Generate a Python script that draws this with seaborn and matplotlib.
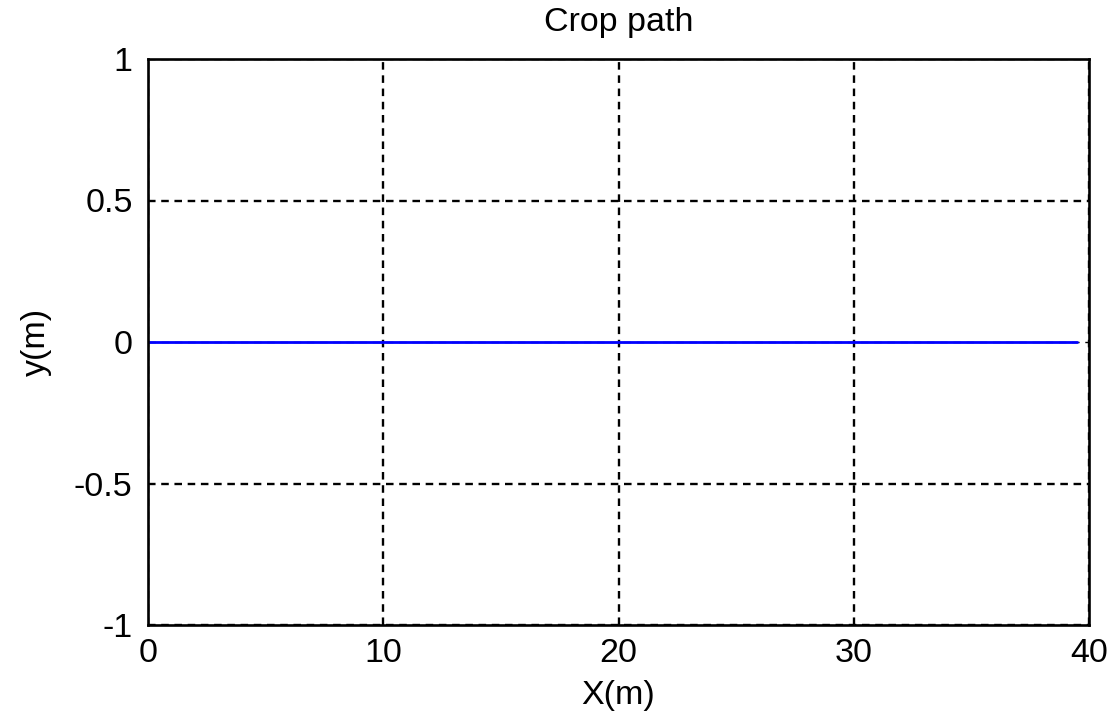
import matplotlib
matplotlib.use("Agg")
import matplotlib.pyplot as plt
import seaborn as sns
import pandas as pd

# Data
path_x = [0, 39.5]
path_y = [0, 0]
x_ticks = [0, 10, 20, 30, 40]
y_ticks = [-1, -0.5, 0, 0.5, 1]
y_tick_labels = ["-1", "-0.5", "0", "0.5", "1"]
x_tick_labels = ["0", "10", "20", "30", "40"]

sns.set_theme(style="white")
plt.rcParams['font.family'] = ['Liberation Sans', 'DejaVu Sans']
plt.rcParams['axes.unicode_minus'] = False

fig = plt.figure(figsize=(11.12, 7.24), dpi=100)
ax = fig.add_axes([148/1112, 1 - 625/724, (1089 - 148)/1112, (625 - 59)/724])
ax.set_axisbelow(True)

df = pd.DataFrame({"x": path_x, "y": path_y})
sns.lineplot(data=df, x="x", y="y", ax=ax, color=(0, 0, 1), linewidth=2.0, zorder=5)

ax.set_xlim(0, 40)
ax.set_ylim(-1, 1)
ax.set_xticks(x_ticks)
ax.set_xticklabels(x_tick_labels)
ax.set_yticks(y_ticks)
ax.set_yticklabels(y_tick_labels)

ax.grid(True, color="black", linestyle=(0, (3.2, 2.4)), linewidth=1.7, zorder=0)
# keep the gridline under the path thin so it stays hidden beneath the blue line
for tick_val, gl in zip(y_ticks, ax.yaxis.get_gridlines()):
    if tick_val == 0:
        gl.set_linewidth(1.0)
        gl.set_dashes((5.4, 4.1))

for s in ax.spines.values():
    s.set_color("black")
    s.set_linewidth(1.9)
    s.set_visible(True)
    s.set_zorder(6)

ax.tick_params(axis="both", direction="in", length=6, width=1.4, colors="black",
               labelsize=24.5, labelcolor="black")
ax.tick_params(axis="y", pad=11)
ax.tick_params(axis="x", pad=9)
ax.set_xlabel("X(m)", fontsize=24.5, color="black", labelpad=8)
ax.set_ylabel("y(m)", fontsize=24.5, color="black", labelpad=16)
ax.set_title("Crop path", fontsize=24.5, color="black", pad=20)

fig.savefig("out.png", dpi=100, facecolor="white")
